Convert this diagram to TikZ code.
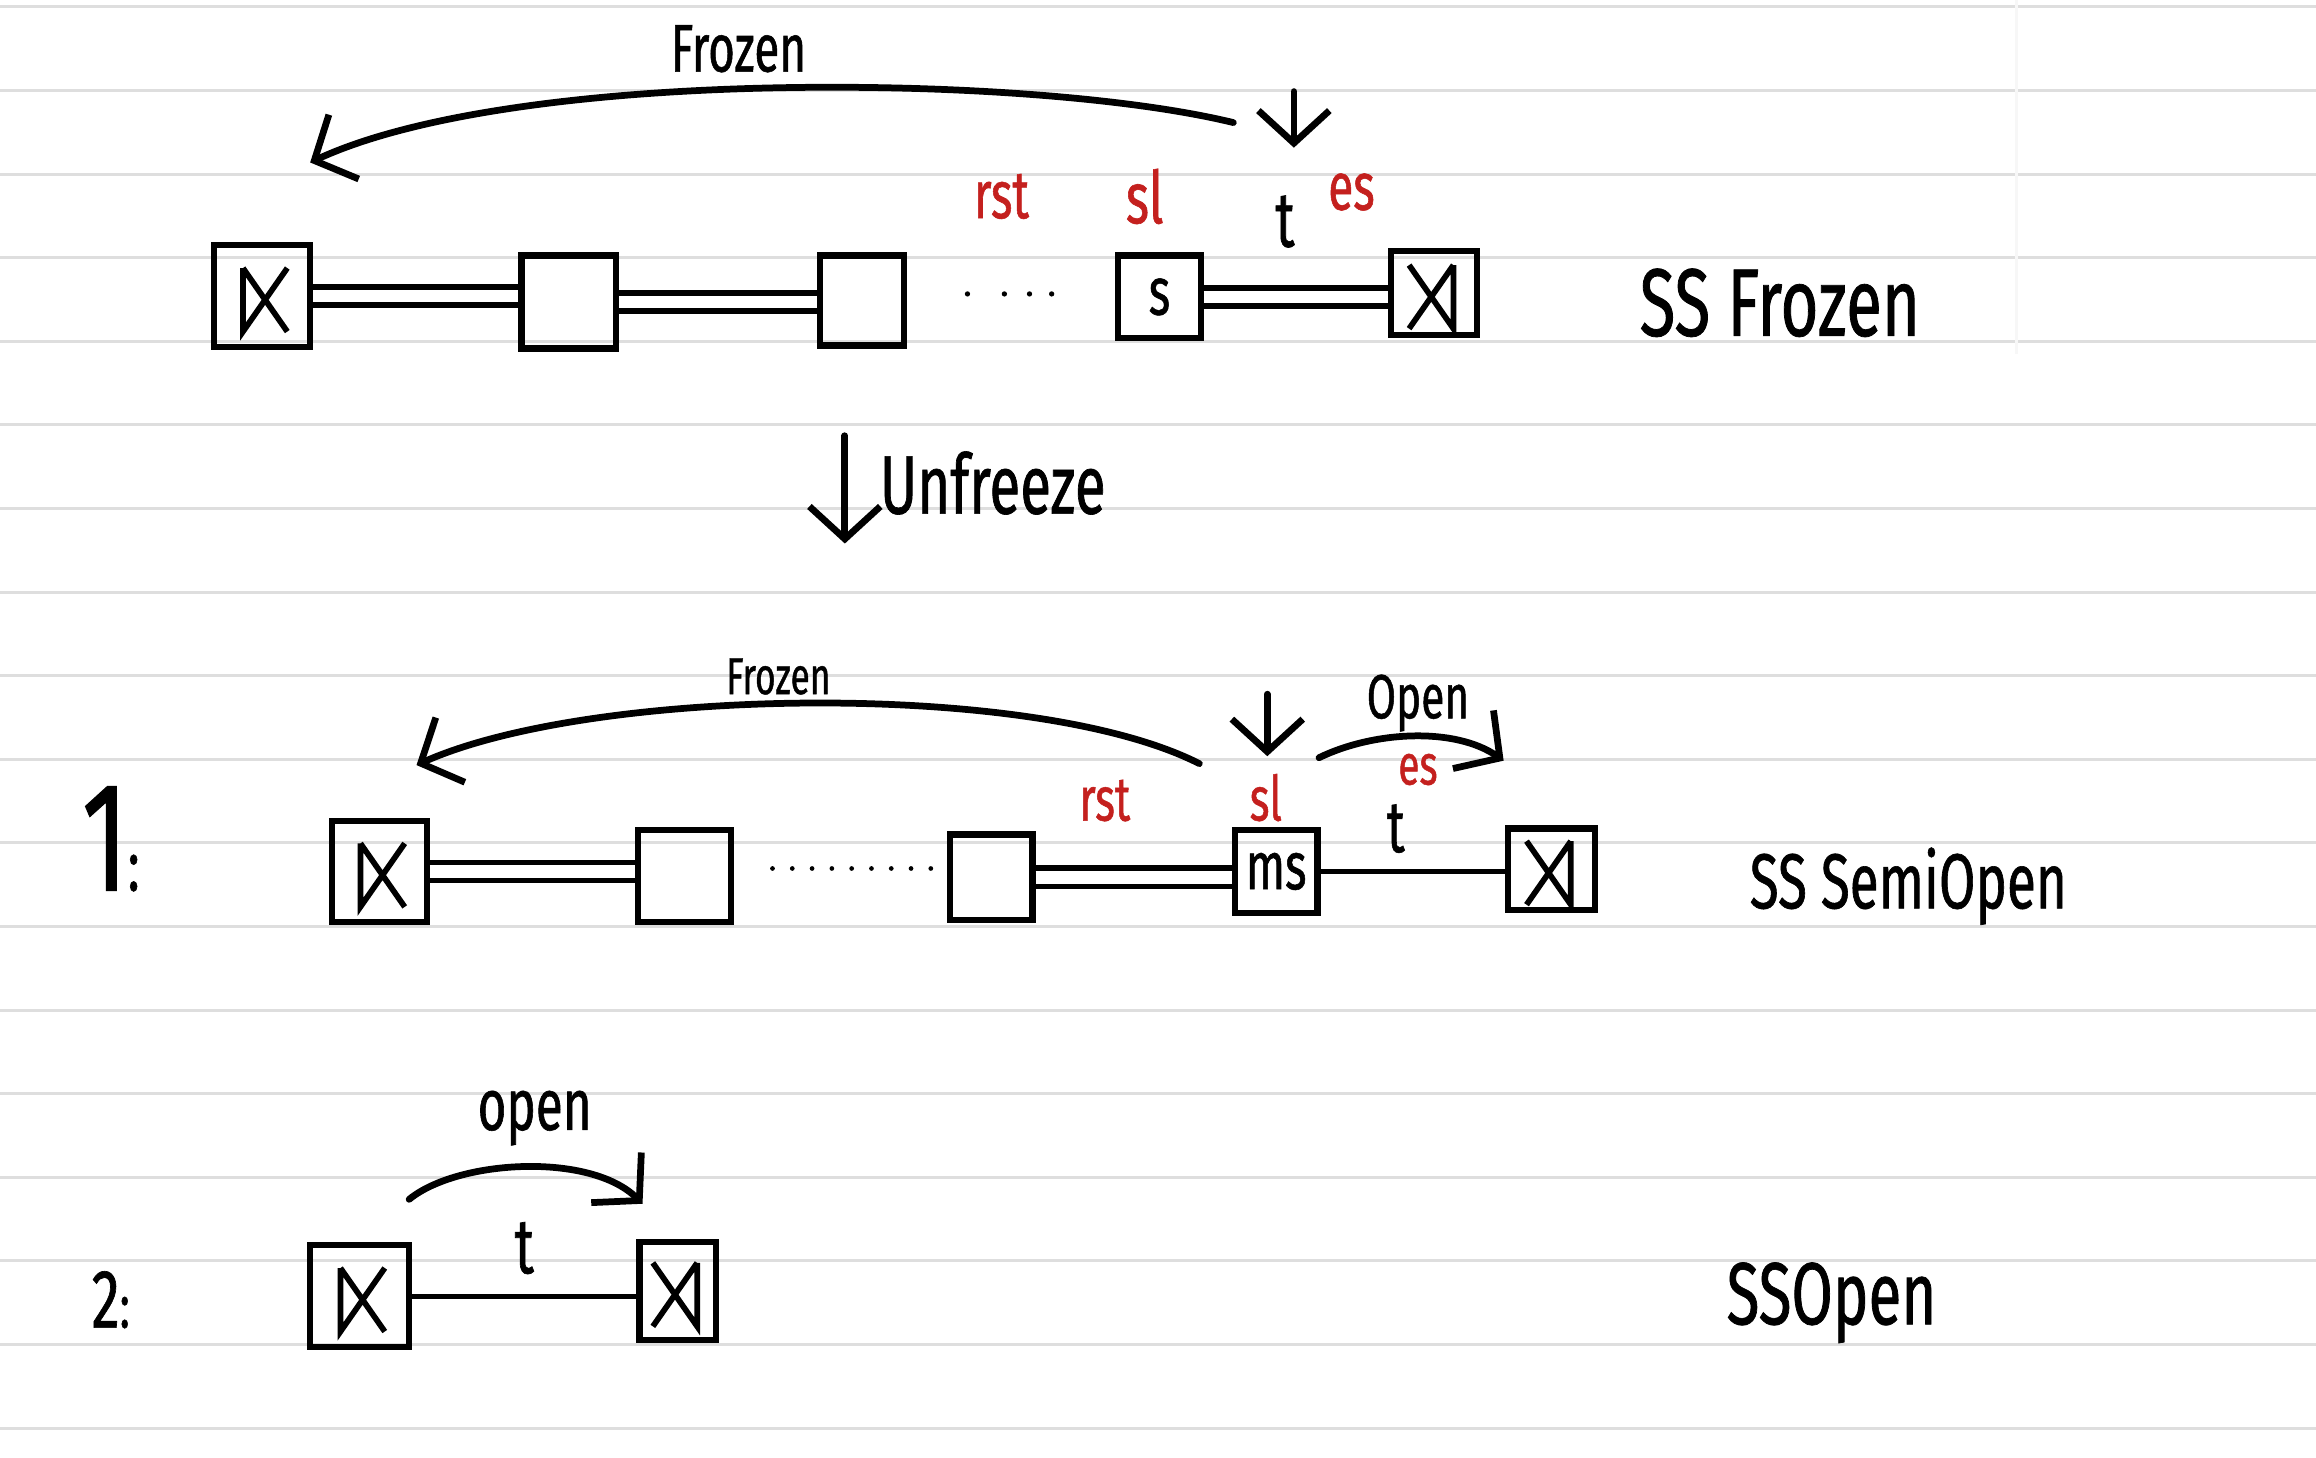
\documentclass[tikz,border=0pt]{standalone}
\usepackage{fontspec}
\newfontfamily\handfont[FakeStretch=0.68,FakeBold=0.8]{Fira Sans}
\usetikzlibrary{positioning,arrows.meta,calc}
\definecolor{inkred}{RGB}{196,32,30}
\definecolor{ruled}{RGB}{222,222,222}

\tikzset{
  cell/.style={draw, line width=1.2pt, inner sep=0pt, font=\handfont\fontsize{13}{14}\selectfont},
  lmark/.style={path picture={
    \draw[line width=1.1pt]
      ([shift={(-1.3mm,1.9mm)}]path picture bounding box.center) -- ++(0mm,-4.3mm) -- ++(3mm,4.3mm)
      ([shift={(-1.3mm,1.9mm)}]path picture bounding box.center) -- ++(3mm,-4.3mm);}},
  rmark/.style={path picture={
    \draw[line width=1.1pt]
      ([shift={(1.3mm,1.9mm)}]path picture bounding box.center) -- ++(0mm,-4.3mm) -- ++(-3mm,4.3mm)
      ([shift={(1.3mm,1.9mm)}]path picture bounding box.center) -- ++(-3mm,-4.3mm);}},
  link/.style={line width=1pt},
  dbl/.style={double, line width=1.1pt, double distance=2.4pt},
  move/.style={line width=1.3pt, line cap=round, -{Straight Barb[length=2.2mm,width=4.8mm]}},
  hand/.style={inner sep=0pt, font=\handfont\fontsize{#1}{#1}\selectfont},
  redhand/.style={hand=#1, text=inkred},
  ruled line/.style={draw=ruled, line width=0.6pt}
}

\begin{document}
\begin{tikzpicture}[x=0.1mm, y=-0.1mm]
\useasboundingbox[fill=white] (0,0) rectangle (1568,987);

% notebook rules
\foreach \k in {0,...,17}
  \draw[ruled line] (0,{4.7+56.6*\k}) -- (1568,{4.7+56.6*\k});
\draw[draw=gray!6, line width=0.6pt] (1365,0) -- (1365,240);

% ---- SS Frozen
\node[cell, minimum width=6.5mm, minimum height=6.9mm, lmark] (a1) at (177.5,200.5) {};
\node[cell, minimum width=6.4mm, minimum height=6.3mm] (b1) at (385,204.5) {};
\node[cell, minimum width=5.7mm, minimum height=6.1mm] (c1) at (583.5,203.5) {};
\node[cell, minimum width=5.6mm, minimum height=5.6mm] (s1) at (785,201) {s};
\node[cell, minimum width=5.8mm, minimum height=5.7mm, rmark] (e1) at (971,198.5) {};
\draw[dbl] (a1.east) -- (a1.east -| b1.west);
\draw[dbl] (b1.east) -- (b1.east -| c1.west);
\draw[dbl] (s1.east) -- (s1.east -| e1.west);
\foreach \x in {655,680,697,712}
  \fill (\x,199) circle (1.8);

\node[redhand=13] (rst1) at (678,133) {rst};
\node[redhand=14] (sl1) at (775,133) {sl};
\node[hand=15] (t1) at (870,150) {t};
\node[redhand=13] (es1) at (915,130) {es};

\coordinate (f1s) at (835,83);
\coordinate (f1e) at (210,110);
\draw[move] (f1s) .. controls (700,50) and (350,45) .. (f1e);
\node[hand=13] (frz1) at (500,33) {Frozen};
\coordinate (d1s) at (876,62);
\coordinate (d1e) at (876,100);
\draw[move] (d1s) -- (d1e);

\node[hand=18.5] (ssf) at (1205,205) {SS Frozen};

% ---- Unfreeze
\coordinate (u1) at (572,295);
\coordinate (u2) at (572,368);
\draw[move] (u1) -- (u2);
\node[hand=16, anchor=west] (unf) at (595,327) {Unfreeze};

% ---- 1: SS SemiOpen
\node[hand=30] (one) at (75,568) {1\fontsize{14}{14}\selectfont:};
\node[cell, minimum width=6.4mm, minimum height=6.8mm, lmark] (a2) at (257,590) {};
\node[cell, minimum width=6.3mm, minimum height=6.2mm] (b2) at (463.5,593) {};
\node[cell, minimum width=5.6mm, minimum height=5.8mm] (c2) at (671,594) {};
\node[cell, minimum width=5.6mm, minimum height=5.6mm] (m2) at (864,590) {ms};
\node[cell, minimum width=5.9mm, minimum height=5.5mm, rmark] (e2) at (1050.5,588.5) {};
\draw[dbl] (a2.east) -- (a2.east -| b2.west);
\draw[dbl] (c2.east) -- (c2.east -| m2.west);
\draw[link] (m2.east) -- (m2.east -| e2.west);
\foreach \i in {0,...,8}
  \fill ({523+13.4*\i},588) circle (1.6);

\node[redhand=12] (rst2) at (748,542) {rst};
\node[redhand=12] (sl2) at (857,540) {sl};
\node[redhand=11] (es2) at (960,521) {es};
\node[hand=14] (t2) at (945,561) {t};

\coordinate (f2s) at (812,517);
\coordinate (f2e) at (282,518);
\draw[move] (f2s) .. controls (700,460) and (400,465) .. (f2e);
\node[hand=10] (frz2) at (527,458) {Frozen};
\coordinate (d2s) at (858,470);
\coordinate (d2e) at (858,512);
\draw[move] (d2s) -- (d2e);
\coordinate (o2s) at (893,513);
\coordinate (o2e) at (1018,515);
\draw[move] (o2s) .. controls (930,495) and (985,492) .. (o2e);
\node[hand=12] (opn2) at (960,476) {Open};

\node[hand=15] (sso) at (1292,600) {SS SemiOpen};

% ---- 2: SSOpen
\node[hand=16] (two) at (75,880) {2\fontsize{12}{12}\selectfont:};
\node[cell, minimum width=6.7mm, minimum height=6.9mm, lmark] (a3) at (243.5,877.5) {};
\node[cell, minimum width=5.2mm, minimum height=6.6mm, rmark] (e3) at (459,874) {};
\draw[link] (a3.east) -- (a3.east -| e3.west);
\node[hand=15] (t3) at (355,845) {t};

\coordinate (o3s) at (277,812);
\coordinate (o3e) at (435,815);
\draw[move] (o3s) .. controls (310,785) and (400,780) .. (o3e);
\node[hand=14] (opn3) at (362,757) {open};

\node[hand=17] (ssp) at (1240,882) {SSOpen};
\end{tikzpicture}
\end{document}
